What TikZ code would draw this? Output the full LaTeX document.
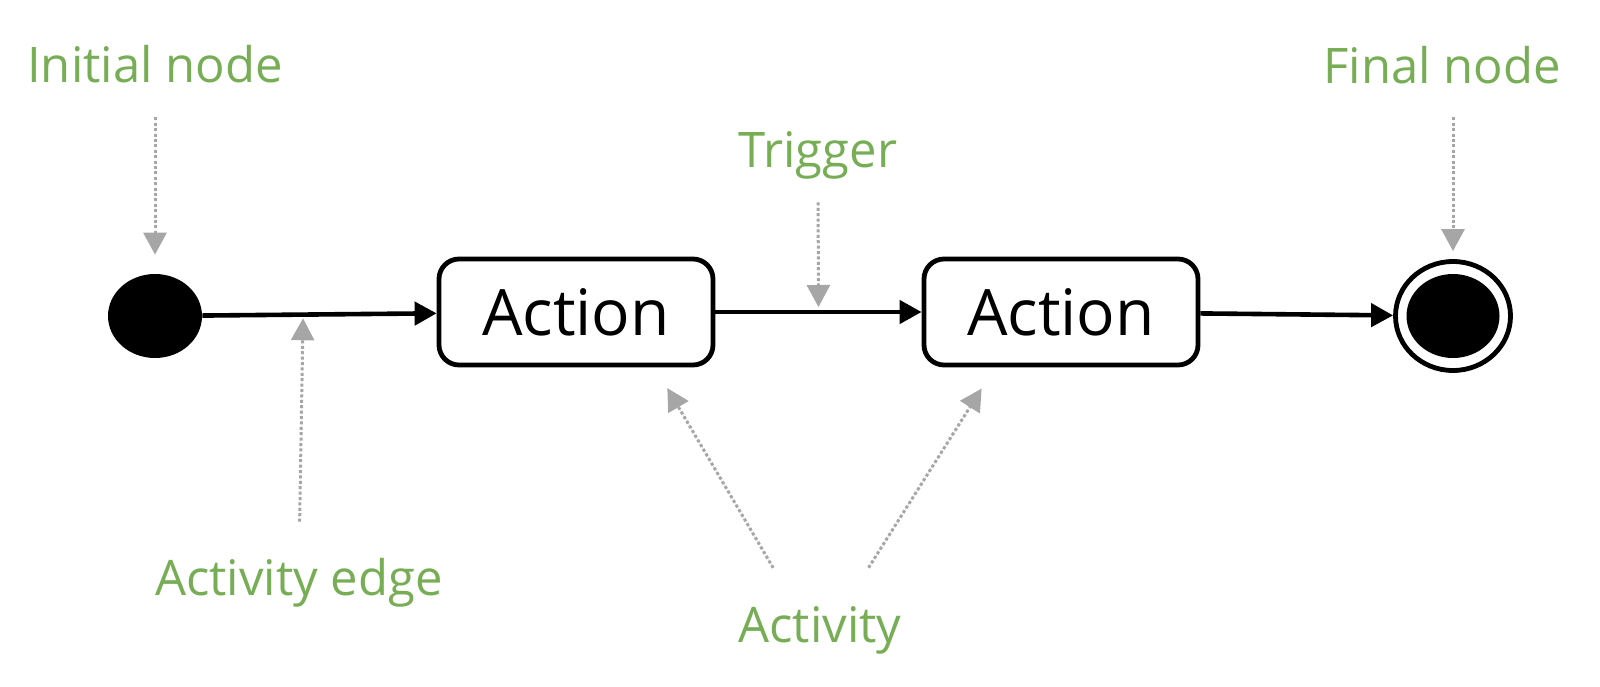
\documentclass[tikz,border=0pt]{standalone}
\usepackage{fontspec}
\setmainfont{Open Sans}
\usetikzlibrary{arrows.meta,positioning,shapes.geometric,calc}
\definecolor{notegreen}{HTML}{77AD55}
\definecolor{notegray}{HTML}{A6A6A6}

\begin{document}
\begin{tikzpicture}[
        x=0.5pt, y=-0.5pt,
        start/.style={ellipse, fill=black, inner sep=0pt, minimum width=47pt, minimum height=42pt},
        finish/.style={ellipse, draw, line width=2.4pt, inner sep=0pt, minimum width=57.5pt, minimum height=54.5pt,
            path picture={\fill (path picture bounding box.center) ellipse (23.25pt and 21pt);}},
        action/.style={rectangle, rounded corners=10pt, draw, line width=2.4pt, minimum width=137pt, minimum height=53pt,
            font=\fontsize{32}{38}\selectfont},
        note/.style={anchor=base, inner sep=0pt, text height=17.5pt, text depth=5pt, text=notegreen,
            font=\fontsize{24.5}{29}\selectfont},
        flow/.style={-{Triangle[length=11pt, width=11.5pt]}, line width=2.3pt},
        pointer/.style={-{Triangle[length=11pt, width=11.5pt]}, draw=notegray, fill=notegray, line width=1.5pt,
            dash pattern=on 1.5pt off 1.2pt}
    ]
        \useasboundingbox (0,0) rectangle (1600,686);

        % Nodes
        \node (init) [start] at (155,316) {};
        \node (act1) [action] at (576,312) {Action};
        \node (act2) [action] at (1061,312) {Action};
        \node (final) [finish] at (1453,316) {};

        % Labels
        \node (initlbl) [note] at (155,82) {Initial node};
        \node (finallbl) [note] at (1442,83) {Final node};
        \node (triglbl) [note] at (818,167) {Trigger};
        \node (edgelbl) [note] at (299,595) {Activity edge};
        \node (actlbl) [note] at (820,642) {Activity};

        % Arrows
        \draw[flow] (init) -- (act1);
        \draw[flow] (act1) -- (act2);
        \draw[flow] (act2) -- (final);

        \coordinate (edgept) at ($(init.east)!0.43!(act1.west)$);
        \coordinate (trigpt) at ($(act1.east)!0.5!(act2.west)$);

        % Pointers
        \draw[pointer, shorten <=12.5pt, shorten >=9.5pt] (initlbl.south) -- (init);
        \draw[pointer, shorten <=12pt, shorten >=4pt] (finallbl.south -| final) -- (final);
        \draw[pointer, shorten <=12.5pt, shorten >=2.5pt] (triglbl.south) -- (trigpt);
        \draw[pointer, shorten <=19pt, shorten >=2pt] (edgelbl.north) -- (edgept);
        \draw[pointer, shorten <=22.5pt, shorten >=12pt] ([xshift=-12pt]actlbl.north) -- (act1.-35);
        \draw[pointer, shorten <=23pt, shorten >=12.5pt] ([xshift=12pt]actlbl.north) -- (act2.-140);
    \end{tikzpicture}
\end{document}
